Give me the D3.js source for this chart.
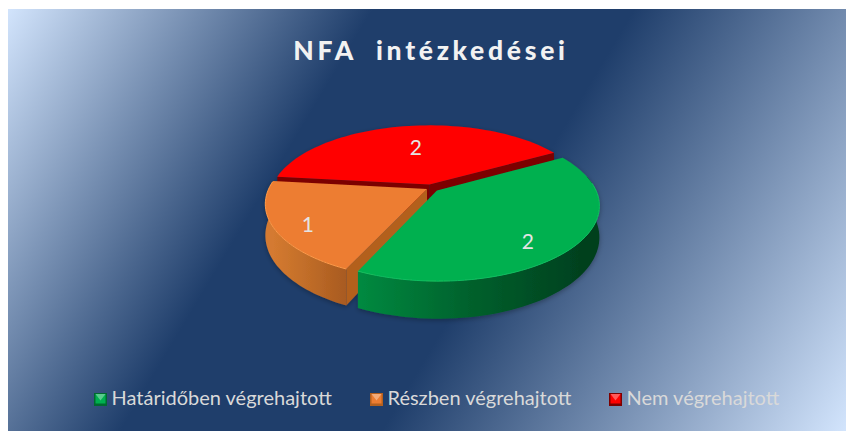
<!DOCTYPE html>
<html><head><meta charset="utf-8">
<style>html,body{margin:0;padding:0;background:#fff}svg{display:block}</style>
<script src="https://cdn.jsdelivr.net/npm/d3@7/dist/d3.min.js"></script>
</head><body><svg id="c" width="846" height="431"></svg>
<script>
const titleText = "NFA  intézkedései";
const categories = ["Határidőben végrehajtott","Részben végrehajtott","Nem végrehajtott"];
const values = [2,1,2];
const topColors = ["#00B050","#ED7D31","#FF0000"];
const rimColors = ["#12c060","#ff9a48","#ff3030"];
const cutColors = ["#006a30","#b3601f","#7c0000"];
const wallStops = [["#008a40","#00602c","#003f1e"],["#d47a30","#bf6c28","#a85a20"],["#a00000","#800000","#600000"]];
const legendX = [94,370,609];
const explodeBy = [8,4.5,8];
const labelR=[0.79,0.816,0.595];
const labelA=[2.46,4.14,-0.165];

const svg=d3.select("#c");
const defs=svg.append("defs");
const px0=8,py0=9,px1=846,py1=431;
const bg=defs.append("linearGradient").attr("id","bg").attr("gradientUnits","userSpaceOnUse")
 .attr("x1",px0).attr("y1",py0).attr("x2",810).attr("y2",489);
[[0,"#d2e4fc"],[.335,"#1f3e6b"],[.575,"#1f3e6b"],[1,"#d2e4fc"]].forEach(s=>bg.append("stop").attr("offset",s[0]).attr("stop-color",s[1]));
svg.append("rect").attr("x",px0).attr("y",py0).attr("width",px1-px0).attr("height",py1-py0).attr("fill","url(#bg)");

const shadow=defs.append("filter").attr("id","sh").attr("x","-10%").attr("y","-10%").attr("width","120%").attr("height","125%");
shadow.append("feDropShadow").attr("dx",0).attr("dy",1.5).attr("stdDeviation",2.5).attr("flood-color","#000").attr("flood-opacity",.3);

const font="Lato,'Open Sans','Noto Sans',sans-serif";
svg.append("text").attr("x",431).attr("y",60).attr("text-anchor","middle").attr("xml:space","preserve")
 .style("white-space","pre").attr("font-family",font).attr("font-weight",900).attr("font-size",26.5)
 .attr("letter-spacing",3.7).attr("fill","#f2f2f2").text(titleText);

// projection of the pie plane
const C=[431,188],R=158,k=0.195,sq=0.455,depth=30;
function proj(wx,wv,z){const s=1/(1-k*wv/R);return [C[0]+wx*s,C[1]+wv*sq*s+z*depth*s];}
const pie=d3.pie().sort(null).startAngle(60.5*Math.PI/180).endAngle((60.5+360)*Math.PI/180)(values);
const line=d3.line().curve(d3.curveLinear);
function rimPts(a0,a1,ox,oy,z){return d3.range(0,61).map(i=>{const a=a0+(a1-a0)*i/60;return proj(ox+R*Math.sin(a),oy-R*Math.cos(a),z);});}

const slices=pie.map((d,i)=>{const m=(d.startAngle+d.endAngle)/2;return {...d,i,ox:explodeBy[i]*Math.sin(m),oy:-explodeBy[i]*Math.cos(m)};});
const g=svg.append("g").attr("filter","url(#sh)");

function wallPath(s,a0,a1){const top=rimPts(a0,a1,s.ox,s.oy,0),bot=rimPts(a0,a1,s.ox,s.oy,1).reverse();return line(top.concat(bot))+"Z";}
function cutPath(s,a){const c0=proj(s.ox,s.oy,0),c1=proj(s.ox,s.oy,1),e0=proj(s.ox+R*Math.sin(a),s.oy-R*Math.cos(a),0),e1=proj(s.ox+R*Math.sin(a),s.oy-R*Math.cos(a),1);return line([c0,e0,e1,c1])+"Z";}

// back to front: red, orange, green
[2,1,0].forEach(idx=>{
 const s=slices[idx];
 const vis0=Math.max(s.startAngle,Math.PI/2-0.2),vis1=Math.min(s.endAngle,Math.PI*1.5+0.2);
 if(vis1>vis0 && idx!==2){
  const pts=rimPts(vis0,vis1,s.ox,s.oy,0);
  const gid="wall"+idx;
  const grad=defs.append("linearGradient").attr("id",gid).attr("gradientUnits","userSpaceOnUse")
   .attr("x1",pts[pts.length-1][0]).attr("y1",0).attr("x2",pts[0][0]).attr("y2",0);
  wallStops[idx].forEach((c,j)=>grad.append("stop").attr("offset",j/2).attr("stop-color",c));
  g.append("path").attr("d",wallPath(s,vis0,vis1)).attr("fill","url(#"+gid+")");
 }
 if(idx===2){
  g.append("path").attr("d",cutPath(s,s.startAngle)).attr("fill",cutColors[idx]);
  g.append("path").attr("d",cutPath(s,s.endAngle)).attr("fill",cutColors[idx]);
 }
 if(idx===1){
  g.append("path").attr("d",cutPath(s,s.startAngle)).attr("fill",cutColors[idx]);
 }
 const pts=[proj(s.ox,s.oy,0)].concat(rimPts(s.startAngle,s.endAngle,s.ox,s.oy,0));
 g.append("path").attr("d",line(pts)+"Z").attr("fill",topColors[idx]);
 if(idx!==2){
  const a0=Math.max(s.startAngle,Math.PI/2-0.1),a1=Math.min(s.endAngle,Math.PI*1.5+0.1);
  g.append("path").attr("d",line(rimPts(a0,a1,s.ox,s.oy,0))).attr("fill","none").attr("stroke",rimColors[idx]).attr("stroke-width",1);
 }
});

// data labels
slices.forEach((s,i)=>{
 const a=labelA[i];
 const p=proj(s.ox+R*labelR[i]*Math.sin(a),s.oy-R*labelR[i]*Math.cos(a),0);
 svg.append("text").attr("x",p[0]).attr("y",p[1]).attr("dy","0.36em").attr("text-anchor","middle")
  .attr("font-family",font).attr("font-size",21).attr("fill","#e4e4e4").text(values[i]);
});

// legend
categories.forEach((c,i)=>{
 const x=legendX[i],y=393,sz=13;
 const lg=svg.append("g");
 lg.append("rect").attr("x",x).attr("y",y).attr("width",sz).attr("height",sz).attr("fill",cutColors[i]);
 lg.append("rect").attr("x",x+1.5).attr("y",y+1).attr("width",sz-3).attr("height",sz-3.5).attr("fill",topColors[i]);
 lg.append("path").attr("d",line([[x+1.5,y+1],[x+sz-1.5,y+1],[x+sz/2,y+sz/2+1]])+"Z").attr("fill","#fff").attr("opacity",.35);
 lg.append("text").attr("x",x+17.5).attr("y",y+12).attr("font-family",font).attr("font-size",20).attr("fill","#d9d9d9").text(c);
});
</script></body></html>
